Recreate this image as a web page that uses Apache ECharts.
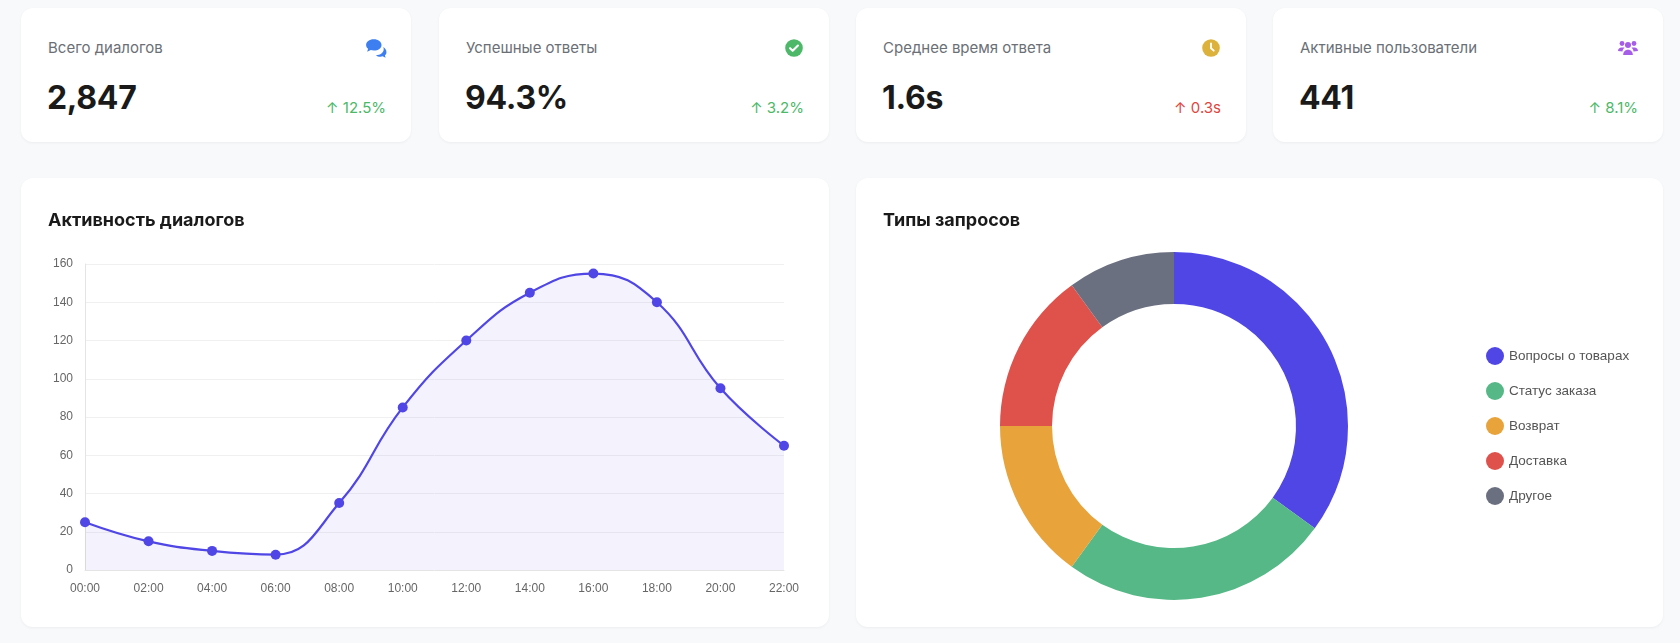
<!DOCTYPE html>
<html lang="ru">
<head>
<meta charset="utf-8">
<title>Дашборд</title>
<script src="https://cdn.jsdelivr.net/npm/echarts@6/dist/echarts.min.js"></script>
<style>
  html, body { margin: 0; padding: 0; }
  body {
    width: 1680px; height: 643px; overflow: hidden;
    background: #f8f9fb; position: relative;
    font-family: Inter, "Noto Sans", "Liberation Sans", sans-serif;
  }
  .card {
    position: absolute; background: #fff; border-radius: 12px;
    box-shadow: 0 1px 3px rgba(0,0,0,0.05);
  }
  .stat { top: 8px; width: 390px; height: 134px; }
  .stat .label { position: absolute; left: 27px; top: 30px; font-size: 15px; color: #6b6f76; line-height: 20px; }
  .stat .icon { position: absolute; right: 24px; top: 29px; width: 22px; height: 22px; }
  .stat .value { position: absolute; left: 26px; top: 69px; font-size: 32px; font-weight: 700; color: #1a1a1a; line-height: 42px; letter-spacing: -0.3px; }
  .stat .delta { position: absolute; right: 25px; top: 90px; font-size: 15px; line-height: 20px; }
  .up { color: #4cb868; }
  .bad { color: #e0453e; }
  .panel { top: 178px; height: 449px; }
  .panel h3 { position: absolute; left: 27px; top: 29px; margin: 0; font-size: 18px; font-weight: 700; color: #1a1a1a; line-height: 26px; }
  .chart { position: absolute; left: 0; top: 0; width: 100%; height: 100%; }
</style>
</head>
<body>

<div class="card stat" style="left:21px">
  <div class="label">Всего диалогов</div>
  <svg class="icon" viewBox="0 0 20 20">
    <path d="M8 2C3.9 2 1 4.4 1 7.2c0 1.4.7 2.6 1.8 3.5L2 13.5l3.3-1.6c.8.3 1.7.4 2.7.4 4.1 0 7-2.3 7-5.1S12.1 2 8 2z" fill="#3d7ff0"/>
    <path d="M16.6 9.2c.3.6.4 1.2.4 1.9 0 3-3 5.3-7 5.4.9.9 2.4 1.5 4 1.5.8 0 1.5-.1 2.1-.4l2.6 1.3-.6-2.3c.9-.7 1.4-1.7 1.4-2.8 0-1.9-1.2-3.6-2.9-4.6z" fill="#3d7ff0"/>
  </svg>
  <div class="value">2,847</div>
  <div class="delta up">↑ 12.5%</div>
</div>

<div class="card stat" style="left:439px">
  <div class="label">Успешные ответы</div>
  <svg class="icon" viewBox="0 0 20 20">
    <circle cx="10" cy="10" r="8" fill="#4cb868"/>
    <path d="M6.4 10.2l2.4 2.4 4.8-4.8" fill="none" stroke="#fff" stroke-width="1.9" stroke-linecap="round" stroke-linejoin="round"/>
  </svg>
  <div class="value">94.3%</div>
  <div class="delta up">↑ 3.2%</div>
</div>

<div class="card stat" style="left:856px">
  <div class="label">Среднее время ответа</div>
  <svg class="icon" viewBox="0 0 20 20">
    <circle cx="10" cy="10" r="8" fill="#ddb23c"/>
    <path d="M10 5.8V10.3l2.5 2.1" fill="none" stroke="#fff" stroke-width="1.7" stroke-linecap="round" stroke-linejoin="round"/>
  </svg>
  <div class="value">1.6s</div>
  <div class="delta bad">↑ 0.3s</div>
</div>

<div class="card stat" style="left:1273px">
  <div class="label">Активные пользователи</div>
  <svg class="icon" viewBox="0 0 22 20">
    <circle cx="5" cy="5.5" r="2.4" fill="#a65ee8"/>
    <circle cx="17" cy="5.5" r="2.4" fill="#a65ee8"/>
    <circle cx="11" cy="7" r="3" fill="#a65ee8"/>
    <path d="M1 13c0-2.2 1.5-3.6 3.6-3.6h1.6c.5 0 1 .1 1.4.3C6.3 10.7 5.5 12 5.5 13.6z" fill="#a65ee8"/>
    <path d="M21 13c0-2.2-1.5-3.6-3.6-3.6h-1.6c-.5 0-1 .1-1.4.3 1.3 1 2.1 2.3 2.1 3.9z" fill="#a65ee8"/>
    <path d="M6.2 17c0-3 1.9-5.2 4.8-5.2s4.8 2.2 4.8 5.2z" fill="#a65ee8"/>
  </svg>
  <div class="value">441</div>
  <div class="delta up">↑ 8.1%</div>
</div>

<div class="card panel" style="left:21px; width:808px;">
  <div id="lineChart" class="chart"></div>
  <h3>Активность диалогов</h3>
</div>

<div class="card panel" style="left:856px; width:807px;">
  <div id="pieChart" class="chart"></div>
  <h3>Типы запросов</h3>
</div>

<script>
// активность по часам
var hours = ['00:00','02:00','04:00','06:00','08:00','10:00','12:00','14:00','16:00','18:00','20:00','22:00'];
var dialogs = [25, 15, 10, 8, 35, 85, 120, 145, 155, 140, 95, 65];
var yTicks = { min: 0, max: 160, interval: 20 };

// типы запросов
var reqTypes = ['Вопросы о товарах', 'Статус заказа', 'Возврат', 'Доставка', 'Другое'];
var reqShare = [35, 25, 15, 15, 10];
var reqColors = ['#4f46e5', '#55b886', '#e8a33a', '#df524c', '#6b7080'];

var axisFont = '"Liberation Sans", Helvetica, Arial, sans-serif';

var lineChart = echarts.init(document.getElementById('lineChart'));
lineChart.setOption({
    animation: false,
    grid: { left: 64, right: 45, top: 86, bottom: 57 },
    xAxis: {
        type: 'category',
        boundaryGap: false,
        data: hours,
        axisLine: { lineStyle: { color: '#e4e4e4' } },
        axisTick: { show: false },
        axisLabel: { color: '#666', fontSize: 12, fontFamily: axisFont, margin: 13 },
        splitLine: { show: false }
    },
    yAxis: {
        type: 'value',
        min: yTicks.min, max: yTicks.max, interval: yTicks.interval,
        axisLine: { show: true, lineStyle: { color: '#e4e4e4' } },
        axisTick: { show: false },
        axisLabel: { color: '#666', fontSize: 12, fontFamily: axisFont, margin: 12 },
        splitLine: { lineStyle: { color: '#f0f0f0' } }
    },
    series: [{
        type: 'line',
        data: dialogs,
        smooth: 0.45,
        symbol: 'circle',
        symbolSize: 10,
        lineStyle: { color: '#4f46e5', width: 2.2 },
        itemStyle: { color: '#4f46e5' },
        areaStyle: { color: 'rgba(79,70,229,0.1)' }
    }]
});

var pieChart = echarts.init(document.getElementById('pieChart'));
pieChart.setOption({
    animation: false,
    color: reqColors,
    legend: {
        orient: 'vertical',
        left: 625,
        top: 164,
        icon: 'circle',
        itemWidth: 18,
        itemHeight: 18,
        itemGap: 17,
        textStyle: { color: '#555', fontSize: 13.5, fontFamily: axisFont }
    },
    series: [{
        type: 'pie',
        center: [318, 248],
        radius: [122, 174],
        startAngle: 90,
        label: { show: false },
        labelLine: { show: false },
        itemStyle: { borderWidth: 0 },
        data: reqTypes.map(function (n, i) { return { name: n, value: reqShare[i] }; })
    }]
});
</script>
</body>
</html>
